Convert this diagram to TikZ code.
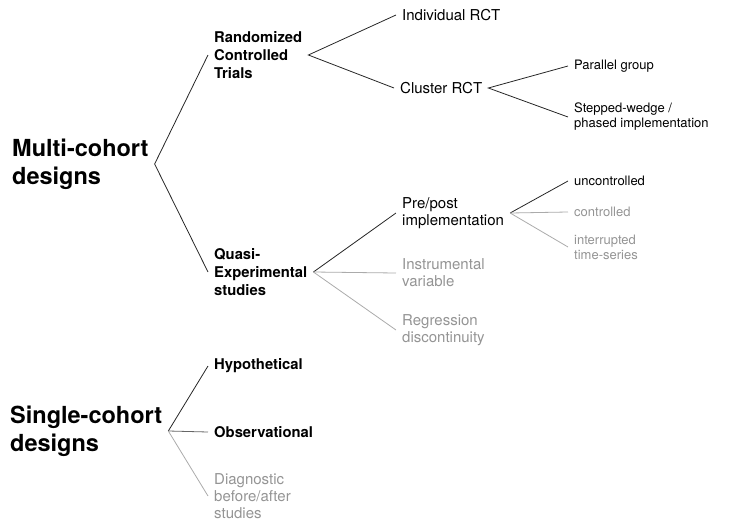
\documentclass[tikz,border=0pt]{standalone}
\usepackage{fontspec}
\setmainfont{TeX Gyre Heros}
\begin{document}
\begin{tikzpicture}[x=1pt,y=-1pt,
  every node/.style={anchor=west, align=left, inner xsep=6pt, inner ysep=0pt},
  title/.style={font=\fontsize{23.5}{28}\selectfont\bfseries},
  sub/.style={font=\fontsize{14.8}{18}\selectfont\bfseries},
  leaf/.style={font=\fontsize{15}{17}\selectfont},
  small/.style={font=\fontsize{13}{15}\selectfont},
  faded/.style={text=black!42},
  link/.style={line width=0.8pt, draw=black!85},
  midlink/.style={line width=0.8pt, draw=black!60},
  fadedlink/.style={line width=0.8pt, draw=black!33},
]
\useasboundingbox (0,0) rectangle (740,528);

\node[title] (multi) at (6,164) {Multi-cohort\\designs};
\node[sub] (rct) at (208,55) {Randomized\\Controlled\\Trials};
\node[sub] (quasi) at (208,272) {Quasi-\\Experimental\\studies};
\node[leaf] (indiv) at (396,15) {Individual RCT};
\node[leaf] (cluster) at (394,88) {Cluster RCT};
\node[small] (parallel) at (568,66) {Parallel group};
\node[small] (stepped) at (568,117) {Stepped-wedge /\\phased implementation};
\node[leaf] (prepost) at (396,213) {Pre/post\\implementation};
\node[leaf,faded] (instr) at (396,273) {Instrumental\\variable};
\node[leaf,faded] (regr) at (396,330) {Regression\\discontinuity};
\node[small] (unc) at (568,181) {uncontrolled};
\node[small,faded] (ctrl) at (568,212) {controlled};
\node[small,faded] (intr) at (568,247) {interrupted\\time-series};

\node[title] (single) at (4,431) {Single-cohort\\designs};
\node[sub] (hypo) at (208,366) {Hypothetical};
\node[sub] (obs) at (208,432) {Observational};
\node[leaf,faded] (diag) at (208,496) {Diagnostic\\before/after\\studies};

\draw[link] (rct.west) -- (multi.east) -- (quasi.west);
\draw[link] (indiv.west) -- (rct.east) -- (cluster.west);
\draw[link] (parallel.west) -- (cluster.east) -- (stepped.west);
\draw[link] (quasi.east) -- (prepost.west);
\draw[fadedlink] (quasi.east) -- (instr.west);
\draw[fadedlink] (quasi.east) -- (regr.west);
\draw[link] (prepost.east) -- (unc.west);
\draw[fadedlink] (prepost.east) -- (ctrl.west);
\draw[fadedlink] (prepost.east) -- (intr.west);
\draw[link] (single.east) -- (hypo.west);
\draw[midlink] (single.east) -- (obs.west);
\draw[fadedlink] (single.east) -- (diag.west);
\end{tikzpicture}
\end{document}
